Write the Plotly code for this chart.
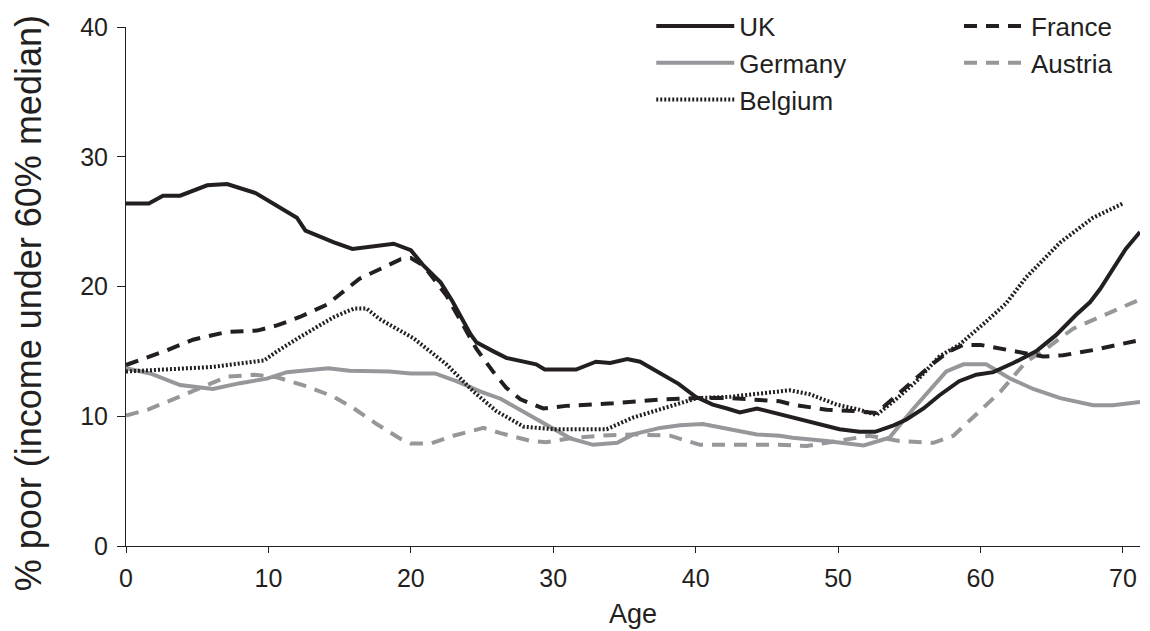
import plotly.graph_objects as go

# ages and poverty rates
uk_age = [0, 1.6, 2.6, 3.8, 5.7, 7.1, 9.1, 12.0, 12.6, 14.6, 15.9, 17.6, 18.8, 20.0, 20.9, 22.1, 22.9, 24.2, 24.6, 25.8,
          26.7, 28.8, 29.4, 31.6, 33.0, 34.0, 35.2, 36.1, 37.5, 38.8, 40.0, 41.2, 42.2, 43.1, 44.3, 45.0, 46.0, 46.8, 48.5, 50.1,
          51.5, 52.6, 53.9, 54.8, 56.0, 57.1, 58.5, 59.7, 60.9, 62.3, 63.9, 65.3, 66.7, 67.7, 68.4, 70.2, 71.2]
uk_val = [26.4, 26.4, 27.0, 27.0, 27.8, 27.9, 27.2, 25.3, 24.3, 23.4, 22.9, 23.1, 23.3, 22.8, 21.6, 20.3, 18.9, 16.3, 15.7, 15.0,
          14.5, 14.0, 13.6, 13.6, 14.2, 14.1, 14.4, 14.2, 13.3, 12.5, 11.5, 10.9, 10.6, 10.3, 10.6, 10.4, 10.1, 9.9, 9.4, 9.0,
          8.8, 8.8, 9.3, 9.75, 10.6, 11.6, 12.7, 13.2, 13.4, 14.1, 15.0, 16.25, 17.8, 18.8, 19.8, 22.9, 24.2]

france_age = [0, 2.9, 4.7, 7.1, 9.2, 10.6, 12.2, 14.1, 16.4, 19.3, 20.0, 20.9, 22.5, 24.6, 25.8, 26.7, 27.7, 29.3, 30.9, 34.2,
              37.7, 40.1, 42.4, 45.9, 46.8, 49.2, 51.1, 52.7, 53.9, 55.3, 56.7, 57.8, 58.8, 60.0, 62.3, 64.4, 65.8, 67.9, 70.9]
france_val = [13.95, 15.1, 15.9, 16.5, 16.6, 17.0, 17.65, 18.6, 20.6, 22.1, 22.2, 21.6, 19.3, 15.2, 13.4, 12.2, 11.3, 10.6, 10.8, 11.0,
              11.3, 11.4, 11.4, 11.15, 10.9, 10.5, 10.4, 10.25, 11.4, 12.7, 14.1, 15.0, 15.5, 15.5, 15.0, 14.6, 14.7, 15.1, 15.8]

germany_age = [0, 1.7, 3.8, 6.1, 8.0, 9.9, 11.3, 12.9, 14.2, 15.7, 18.5, 20.0, 21.7, 23.2, 24.9, 26.3, 28.1, 29.8, 31.2, 32.8,
               34.5, 35.6, 37.5, 38.9, 40.5, 42.4, 44.3, 45.9, 46.8, 49.2, 51.8, 53.6, 55.3, 57.6, 58.8, 60.4, 62.1, 63.7, 65.6, 67.9,
               69.3, 71.2]
germany_val = [13.7, 13.3, 12.4, 12.1, 12.55, 12.9, 13.4, 13.6, 13.7, 13.5, 13.45, 13.3, 13.3, 12.7, 11.9, 11.35, 10.25, 9.2, 8.3, 7.8,
               7.95, 8.6, 9.1, 9.3, 9.4, 9.0, 8.6, 8.5, 8.35, 8.1, 7.75, 8.35, 10.6, 13.45, 14.0, 14.0, 12.9, 12.1, 11.4, 10.85,
               10.85, 11.1]

austria_age = [0, 1.5, 3.3, 5.2, 7.1, 9.0, 10.6, 12.7, 14.6, 16.0, 17.6, 19.2, 20.0, 21.4, 23.0, 25.1, 26.3, 28.4, 29.5, 31.2,
               33.3, 35.6, 38.2, 40.3, 43.1, 45.9, 47.8, 50.4, 52.2, 54.3, 56.7, 58.1, 59.5, 61.4, 63.2, 64.6, 66.5, 69.1, 71.2]
austria_val = [10.05, 10.5, 11.3, 12.2, 13.05, 13.2, 13.0, 12.3, 11.5, 10.6, 9.4, 8.3, 7.9, 7.9, 8.5, 9.1, 8.7, 8.1, 8.0, 8.3,
               8.5, 8.6, 8.5, 7.8, 7.8, 7.8, 7.7, 8.2, 8.5, 8.1, 7.95, 8.5, 9.9, 11.9, 14.2, 15.2, 16.75, 18.0, 19.0]

belgium_age = [0, 2.9, 6.1, 9.7, 10.6, 12.2, 13.4, 14.6, 16.0, 16.9, 17.8, 20.2, 22.5, 24.4, 26.0, 27.9, 30.0, 33.75, 35.6, 38.2,
               40.1, 42.4, 45.9, 46.6, 48.0, 49.9, 51.5, 52.7, 53.9, 55.5, 57.1, 58.5, 60.4, 61.8, 63.2, 65.6, 67.9, 70.0]
belgium_val = [13.45, 13.6, 13.8, 14.3, 15.0, 16.1, 16.9, 17.65, 18.3, 18.3, 17.5, 16.0, 14.0, 11.9, 10.4, 9.2, 9.0, 9.0, 9.9, 10.8,
               11.4, 11.5, 11.9, 12.0, 11.7, 10.9, 10.5, 10.1, 11.15, 12.7, 14.6, 15.5, 17.3, 18.7, 20.7, 23.4, 25.3, 26.4]

INK = "#231f20"
GREY = "#96979a"
FONT = "Liberation Sans, Arial, sans-serif"

series = [
    # name, x, y, colour, dash, legend, rank
    ("Austria", austria_age, austria_val, GREY, "13px,9px", "legend2", 2),
    ("Germany", germany_age, germany_val, GREY, "solid", "legend", 2),
    ("Belgium", belgium_age, belgium_val, INK, "2px,2px", "legend", 3),
    ("France", france_age, france_val, INK, "13px,9px", "legend2", 1),
    ("UK", uk_age, uk_val, INK, "solid", "legend", 1),
]

fig = go.Figure()
for name, x, y, colour, dash, leg, rank in series:
    fig.add_trace(go.Scatter(
        x=x, y=y, name=name, mode="lines",
        line=dict(color=colour, dash=dash, width=4),
        legend=leg, legendrank=rank, legendgroup=name,
    ))

legend_style = dict(
    font=dict(family=FONT, size=26, color=INK),
    bgcolor="rgba(0,0,0,0)",
    tracegroupgap=0,
    yanchor="top",
    xanchor="left",
    y=1.047,
)

# the page body adds an 8px margin, so the figure is sized to fill the rest
fig.update_layout(
    width=1142,
    height=623,
    margin=dict(l=118, r=10, t=19, b=85, autoexpand=False),
    paper_bgcolor="white",
    plot_bgcolor="white",
    font=dict(family=FONT, size=25, color=INK),
    legend=dict(x=0.518, itemwidth=78, **legend_style),
    legend2=dict(x=0.8215, itemwidth=62, **legend_style),
    annotations=[dict(
        text="% poor (income under 60% median)",
        xref="paper", yref="paper", x=-0.0966, y=0.4676,
        xanchor="center", yanchor="middle",
        textangle=-90, showarrow=False,
        font=dict(family=FONT, size=36, color=INK),
    )],
)

fig.update_xaxes(
    range=[0, 71.2], tickvals=[0, 10, 20, 30, 40, 50, 60, 70],
    showline=True, linecolor=INK, linewidth=1,
    ticks="outside", ticklen=6, tickcolor=INK, ticklabelstandoff=4,
    showgrid=False, zeroline=False,
    title=dict(text="Age", font=dict(size=27), standoff=13),
)
fig.update_yaxes(
    range=[0, 40], tickvals=[0, 10, 20, 30, 40],
    showline=True, linecolor=INK, linewidth=1,
    ticks="outside", ticklen=8, tickcolor=INK, ticklabelstandoff=4,
    showgrid=False, zeroline=False,
)

fig.write_html("out.html")
